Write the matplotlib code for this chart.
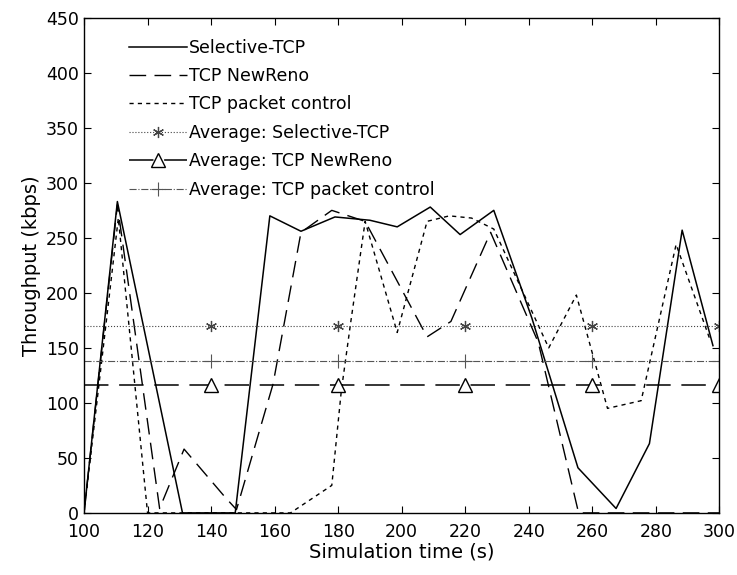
import numpy as np
import matplotlib.pyplot as plt

plt.rcParams['font.family'] = ['DejaVu Sans']

# Selective-TCP (solid)
sel_t = [100, 110.5, 131, 147.6, 158.5, 168.3, 179, 190, 198.6, 209, 218.4, 229, 241, 255.5, 267.5, 278, 288.3, 298]
sel_v = [0, 283, 0, 0, 270, 256, 269, 266, 260, 278, 253, 275, 177, 41, 4, 63, 257, 152]

# TCP NewReno (long dash)
nr_t = [100, 110.5, 123.8, 131.5, 144.5, 148, 159.5, 168.3, 178, 188.5, 208, 215.5, 228, 243, 255.7, 300]
nr_v = [0, 280, 4, 58, 14, 3, 117, 255, 275, 265, 160, 174, 255, 155, 0, 0]

# TCP packet control (short dash)
pc_t = [100, 110.8, 120, 165, 178, 181, 184, 188.5, 198.6, 208, 215, 222, 229, 246.3, 255, 264.8, 275.4, 286.4, 297]
pc_v = [0, 268, 0, 0, 25, 111, 174, 265, 164, 265, 270, 268, 258, 150, 198, 95, 102, 244, 158]

avg_t = [100, 140, 180, 220, 260, 300]
avg_sel = 170
avg_nr = 116
avg_pc = 138

fig = plt.figure(figsize=(7.37, 5.75), dpi=100)
ax = fig.add_axes([0.114, 0.108, 0.862, 0.861])

mk = [1, 2, 3, 4, 5]
ax.plot(sel_t, sel_v, color='black', lw=1.1, ls='-', label='Selective-TCP')
ax.plot(nr_t, nr_v, color='black', lw=1.0, ls=(0, (12, 6)), label='TCP NewReno')
ax.plot(pc_t, pc_v, color='black', lw=1.0, ls=(0, (3, 3)), label='TCP packet control')
ax.plot(avg_t, [avg_sel] * len(avg_t), color='#444444', lw=0.8, ls=':', marker=(6, 2, 0),
        ms=8, mew=0.9, markevery=mk, label='Average: Selective-TCP')
ax.plot(avg_t, [avg_nr] * len(avg_t), color='black', lw=1.1, ls=(0, (16, 7)), marker='^',
        ms=10, mfc='white', mec='black', markevery=mk, label='Average: TCP NewReno')
ax.plot(avg_t, [avg_pc] * len(avg_t), color='#555555', lw=0.8, ls='-.', marker='+',
        ms=10, mew=0.8, markevery=mk, label='Average: TCP packet control')

ax.set_xlim(100, 300)
ax.set_ylim(0, 450)
ax.set_xticks(np.arange(100, 301, 20))
ax.set_yticks(np.arange(0, 451, 50))
ax.tick_params(direction='in', top=True, right=True, length=5, labelsize=12.5)
ax.tick_params(axis='x', pad=7)
for s in ax.spines.values():
    s.set_linewidth(1.0)

ax.set_xlabel('Simulation time (s)', fontsize=14, labelpad=1)
ax.set_ylabel('Throughput (kbps)', fontsize=14, labelpad=4)

ax.legend(loc='upper left', bbox_to_anchor=(0.06, 0.972), frameon=False, fontsize=12.5,
          handlelength=3.35, handletextpad=0.1, labelspacing=0.6, borderaxespad=0)

fig.savefig('out.png', dpi=100)
